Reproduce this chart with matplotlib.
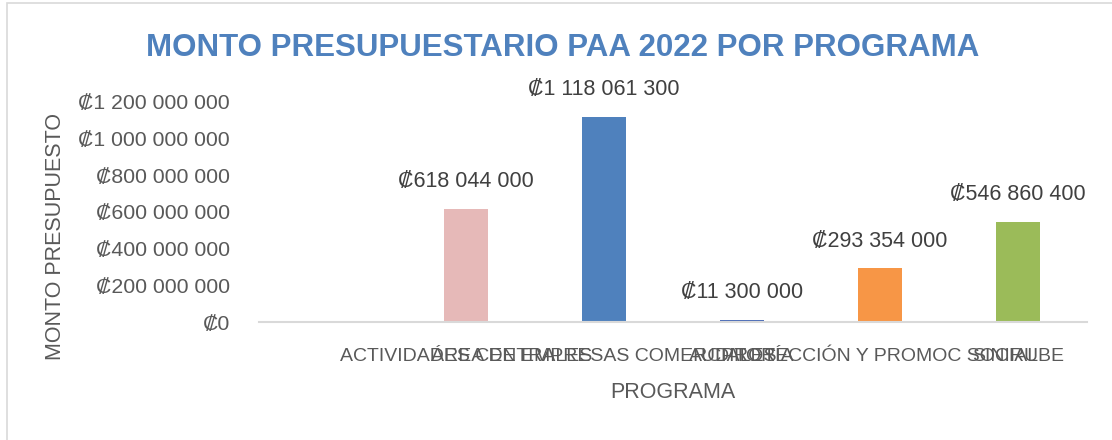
import matplotlib
matplotlib.use("Agg")
import matplotlib.pyplot as plt
from matplotlib import font_manager
from matplotlib.ticker import FuncFormatter
from matplotlib.patches import Rectangle

programas = ["ACTIVIDADES CENTRALES", "ÁREA DE EMPRESAS COMERCIALES", "AUDITORÍA",
             "PROTECCIÓN Y PROMOC SOCIAL", "SINIRUBE"]
montos = [618044000, 1118061300, 11300000, 293354000, 546860400]
colores = ["#E6B9B8", "#4F81BD", "#4F6FB8", "#F79646", "#9BBB59"]

plt.rcParams['font.family'] = ['Liberation Sans', 'DejaVu Sans']

def colones(v, pos=None):
    return "₡" + f"{int(round(v)):,}".replace(",", " ")

W, H = 1112, 440
fig = plt.figure(figsize=(W / 100, H / 100), dpi=100)
ax = fig.add_axes([259 / W, 1 - 322 / H, (1087 - 259) / W, (322 - 102) / H])

x = list(range(len(programas)))
ax.bar(x, montos, width=0.32, color=colores, zorder=2)
for xi, v in zip(x, montos):
    ax.annotate(colones(v), (xi, v), xytext=(0, 12), textcoords="offset points",
                ha="center", va="bottom", fontsize=15.5, color="#404040",
                annotation_clip=False)

ax.set_xlim(-1.5, len(programas) - 0.5)
ax.set_ylim(0, 1.2e9)
ax.set_yticks([i * 2e8 for i in range(7)])
ax.yaxis.set_major_formatter(FuncFormatter(colones))
ax.set_xticks(x)
ax.set_xticklabels(programas, fontsize=14, color="#595959")
ax.tick_params(axis="y", length=0, pad=21, labelsize=15.3, labelcolor="#595959")
ax.tick_params(axis="x", length=0, pad=19)
for s in ["top", "right", "left"]:
    ax.spines[s].set_visible(False)
ax.spines["bottom"].set_color("#D9D9D9")
ax.spines["bottom"].set_linewidth(1.5)

# titulo
titulo = "MONTO PRESUPUESTARIO PAA 2022 POR PROGRAMA"
names = {f.name for f in font_manager.fontManager.ttflist}
if "Liberation Sans Narrow" in names:
    fig.text(563 / W, 1 - 48 / H, titulo, family=["Liberation Sans Narrow", "DejaVu Sans"],
             fontsize=25, fontweight="bold", color="#4F81BD", ha="center", va="center")
else:
    fig.text(563 / W, 1 - 48 / H, titulo, fontsize=22.5, fontweight="bold",
             color="#4F81BD", ha="center", va="center")

fig.text(56 / W, 1 - 236 / H, "MONTO PRESUPUESTO", rotation=90, fontsize=15.5,
         color="#595959", ha="center", va="center")
fig.text(673 / W, 1 - 392 / H, "PROGRAMA", fontsize=15.5, color="#595959",
         ha="center", va="center")

fig.patches.append(Rectangle((7 / W, -0.1), 1.5, 1.1 - 3 / H, transform=fig.transFigure,
                             fill=False, edgecolor="#D9D9D9", linewidth=1.2))

fig.savefig("out.png", dpi=100)
